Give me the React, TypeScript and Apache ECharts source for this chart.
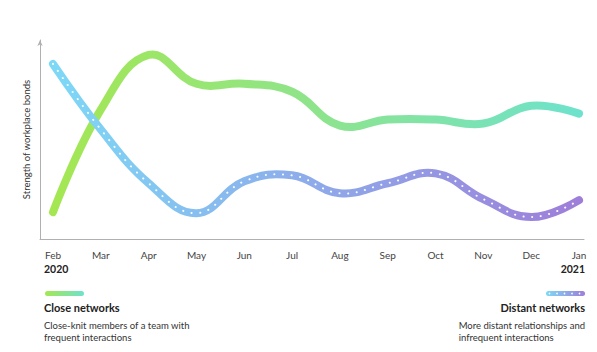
import React, { useEffect, useRef } from "react";
import * as echarts from "echarts";

const months = ["Feb", "Mar", "Apr", "May", "Jun", "Jul", "Aug", "Sep", "Oct", "Nov", "Dec", "Jan"];
const closeNetworks = [13.5, 65, 92.5, 78, 78, 74, 57, 60, 60, 58, 67, 63];
const distantNetworks = [88, 55, 28, 13, 29, 32, 23, 28, 33, 20, 11, 19.5];
const yearStart = "2020";
const yearEnd = "2021";
const yAxisName = "Strength of workplace bonds";
const legendClose = { title: "Close networks", desc: ["Close-knit members of a team with", "frequent interactions"] };
const legendDistant = { title: "Distant networks", desc: ["More distant relationships and", "infrequent interactions"] };

const FONT = "Lato, 'Open Sans', sans-serif";

const greenStops = [
  { offset: 0, color: "#a4e752" },
  { offset: 0.5, color: "#8ee48c" },
  { offset: 1, color: "#6ee2cc" },
];
const blueStops = [
  { offset: 0, color: "#7dd8f6" },
  { offset: 0.5, color: "#8eaaea" },
  { offset: 1, color: "#9e7ed9" },
];

const SMOOTH = 0.42;

function curveSeries(values: number[], stops: any[], dotted: boolean) {
  return {
    type: "custom",
    xAxisIndex: 1,
    yAxisIndex: 1,
    clip: false,
    data: [[0, values[0]]],
    renderItem: (_params: any, api: any) => {
      const points = values.map((v, i) => api.coord([i, v]));
      const children: any[] = [
        {
          type: "polyline",
          shape: { points, smooth: SMOOTH },
          style: {
            fill: "none",
            stroke: new echarts.graphic.LinearGradient(0, 0, 1, 0, stops),
            lineWidth: 8,
            lineCap: "round",
            lineJoin: "round",
          },
        },
      ];
      if (dotted) {
        children.push({
          type: "polyline",
          shape: { points, smooth: SMOOTH },
          style: {
            fill: "none",
            stroke: "rgba(255,255,255,0.95)",
            lineWidth: 2,
            lineCap: "round",
            lineDash: [0.1, 8.5],
          },
        });
      }
      return { type: "group", children };
    },
  };
}

export default function App() {
  const ref = useRef<HTMLDivElement>(null);
  useEffect(() => {
    if (!ref.current) return;
    const chart = echarts.init(ref.current, null, { renderer: "svg" });
    const option: any = {
      animation: false,
      grid: [
        { left: 40, right: 13, top: 40, bottom: 113 },
        { left: 53, right: 18, top: 40, bottom: 113 },
      ],
      xAxis: [
        {
          gridIndex: 0,
          type: "value",
          min: 0,
          max: 1,
          axisLine: { show: true, lineStyle: { color: "#b0b0b0", width: 1 } },
          axisTick: { show: false },
          axisLabel: { show: false },
          splitLine: { show: false },
        },
        {
          gridIndex: 1,
          type: "category",
          data: months,
          boundaryGap: false,
          axisLine: { show: false },
          axisTick: { show: false },
          axisLabel: { color: "#444", fontSize: 10, fontFamily: FONT, margin: 10, lineHeight: 11 },
          splitLine: { show: false },
        },
      ],
      yAxis: [
        {
          gridIndex: 0,
          type: "value",
          min: 0,
          max: 1,
          axisLine: {
            show: true,
            lineStyle: { color: "#b0b0b0", width: 1 },
            symbol: ["none", "arrow"],
            symbolSize: [4, 6],
          },
          axisTick: { show: false },
          axisLabel: { show: false },
          splitLine: { show: false },
          name: yAxisName,
          nameLocation: "middle",
          nameGap: 9,
          nameTextStyle: { color: "#333", fontSize: 9.5, fontFamily: FONT },
        },
        {
          gridIndex: 1,
          type: "value",
          min: 0,
          max: 100,
          show: false,
        },
      ],
      series: [curveSeries(closeNetworks, greenStops, false), curveSeries(distantNetworks, blueStops, true)],
      graphic: [
        { type: "text", left: 44, top: 263, style: { text: yearStart, font: `bold 10.5px ${FONT}`, fill: "#222" } },
        { type: "text", right: 12, top: 263, style: { text: yearEnd, font: `bold 10.5px ${FONT}`, fill: "#222", align: "right" } },
        {
          type: "rect",
          shape: { x: 45, y: 291, width: 39, height: 5, r: 2.5 },
          style: {
            fill: new echarts.graphic.LinearGradient(0, 0, 1, 0, [
              { offset: 0, color: "#a4e752" },
              { offset: 1, color: "#6ee2cc" },
            ]),
          },
        },
        { type: "text", left: 44, top: 302, style: { text: legendClose.title, font: `bold 11px ${FONT}`, fill: "#222" } },
        { type: "text", left: 44, top: 319, style: { text: legendClose.desc.join("\n"), font: `9.5px ${FONT}`, fill: "#333", lineHeight: 12.5 } },
        {
          type: "rect",
          shape: { x: 546, y: 291, width: 39, height: 5, r: 2.5 },
          style: {
            fill: new echarts.graphic.LinearGradient(0, 0, 1, 0, [
              { offset: 0, color: "#7dd8f6" },
              { offset: 1, color: "#9e7ed9" },
            ]),
          },
        },
        {
          type: "group",
          children: [0, 1, 2, 3, 4].map((i) => ({
            type: "circle",
            shape: { cx: 549.5 + i * 7.5, cy: 293.5, r: 0.8 },
            style: { fill: "#fff" },
          })),
        },
        { type: "text", right: 12, top: 302, style: { text: legendDistant.title, font: `bold 11px ${FONT}`, fill: "#222", align: "right" } },
        { type: "text", right: 12, top: 319, style: { text: legendDistant.desc.join("\n"), font: `9.5px ${FONT}`, fill: "#333", lineHeight: 12.5, align: "right" } },
      ],
    };
    chart.setOption(option);
    return () => chart.dispose();
  }, []);
  return <div ref={ref} style={{ width: 597, height: 352, position: "absolute", left: 0, top: 0, background: "#fff" }} />;
}
